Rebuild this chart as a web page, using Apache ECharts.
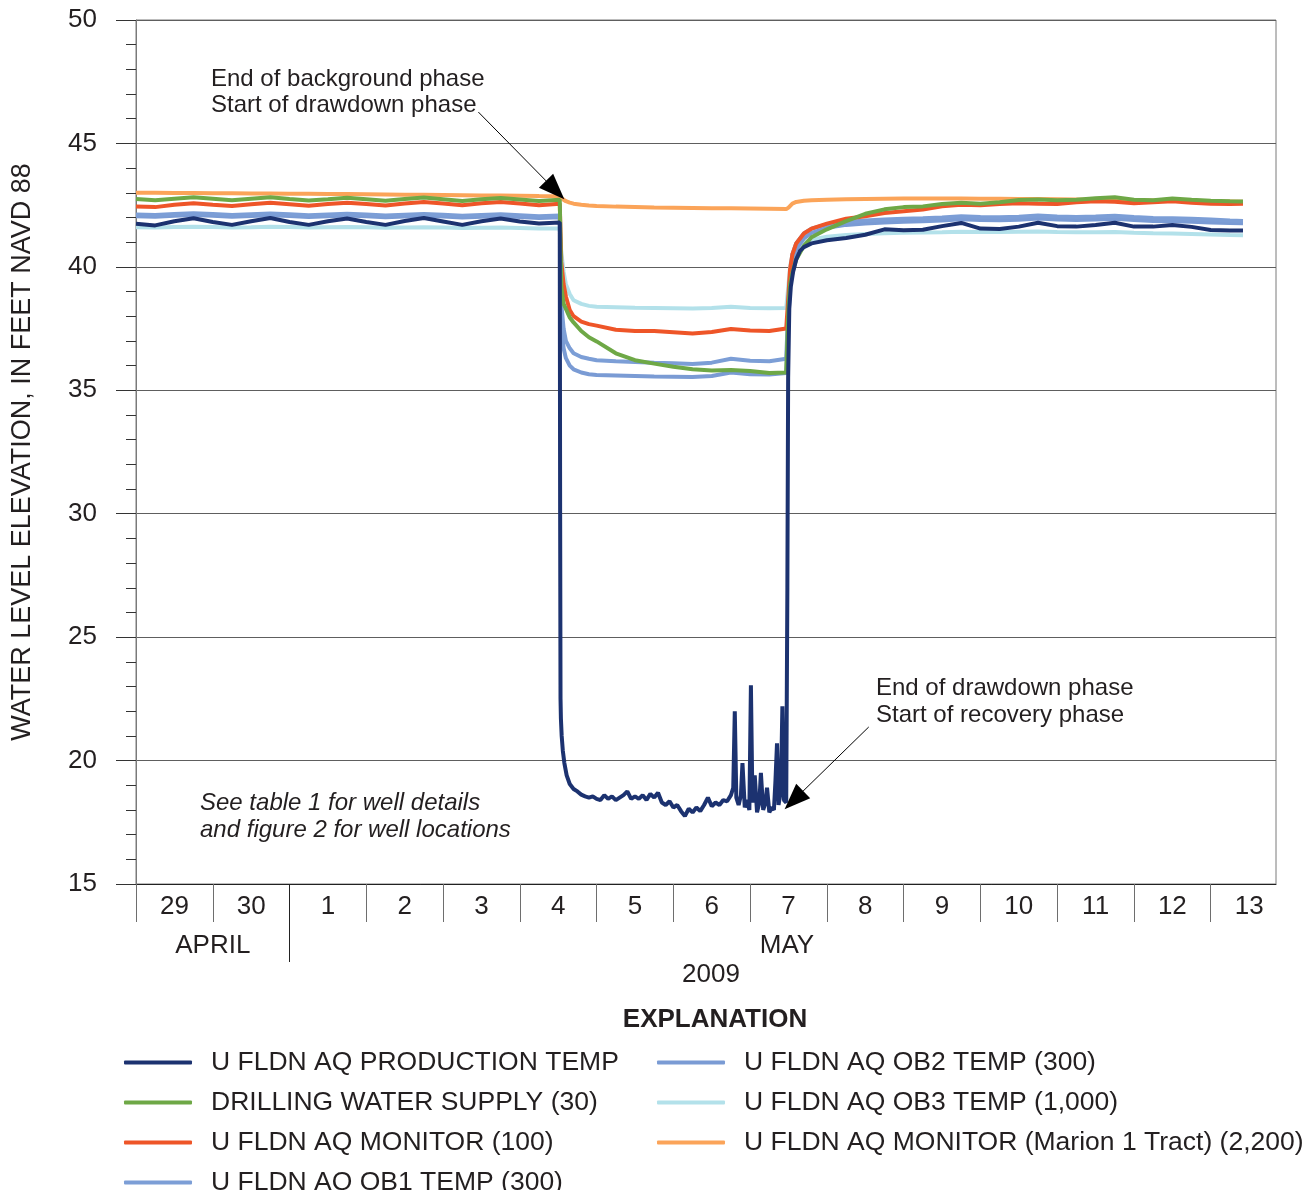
<!DOCTYPE html>
<html>
<head>
<meta charset="utf-8">
<script src="https://cdn.jsdelivr.net/npm/echarts@6/dist/echarts.min.js"></script>
<style>
html, body { margin: 0; padding: 0; background: #fff; }
#container { width: 1309px; height: 1190px; }
</style>
</head>
<body>
<div id="container"></div>
<script>
// x values are days since April 29, 2009 00:00
var dayLabels = ['29', '30', '1', '2', '3', '4', '5', '6', '7', '8', '9', '10', '11', '12', '13'];
var monthLabels = ['APRIL', 'MAY'];
var monthCenters = [1, 8.48];
var yearLabel = '2009';

var days = [0, 0.25, 0.5, 0.75, 1.0, 1.25, 1.5, 1.75, 2.0, 2.25, 2.5, 2.75, 3.0, 3.25, 3.5, 3.75, 4.0, 4.25, 4.5, 4.75, 5.0, 5.25, 5.52,
    5.54, 5.57, 5.6, 5.65, 5.7, 5.8, 5.9, 6.0, 6.25, 6.5, 6.75, 7.0, 7.25, 7.5, 7.75, 8.0, 8.25, 8.47,
    8.5, 8.52, 8.55, 8.6, 8.7, 8.8, 9.0, 9.25, 9.5, 9.75, 10.0, 10.25, 10.5, 10.75, 11.0, 11.25, 11.5, 11.75, 12.0, 12.25, 12.5, 12.75, 13.0, 13.25, 13.5, 13.75, 14.0, 14.25, 14.42];

var drilling = [42.75, 42.70, 42.76, 42.82, 42.76, 42.70, 42.76, 42.82, 42.75, 42.69, 42.74, 42.80, 42.74, 42.68, 42.75, 42.81, 42.74, 42.67, 42.74, 42.79, 42.73, 42.67, 42.72,
    39.2, 38.5, 38.3, 37.95, 37.75, 37.4, 37.15, 36.98, 36.5, 36.22, 36.08, 35.95, 35.85, 35.80, 35.82, 35.78, 35.70, 35.72,
    38.4, 39.3, 39.75, 40.3, 40.85, 41.2, 41.52, 41.85, 42.15, 42.33, 42.42, 42.45, 42.55, 42.60, 42.56, 42.62, 42.71, 42.73, 42.70, 42.72, 42.78, 42.82, 42.72, 42.70, 42.77, 42.72, 42.68, 42.66, 42.65];

var monitor100 = [42.45, 42.42, 42.52, 42.58, 42.52, 42.47, 42.54, 42.60, 42.54, 42.48, 42.55, 42.60, 42.55, 42.49, 42.57, 42.63, 42.57, 42.50, 42.58, 42.63, 42.57, 42.50, 42.56,
    40.2, 39.3, 38.8, 38.25, 38.0, 37.78, 37.68, 37.62, 37.45, 37.40, 37.40, 37.35, 37.30, 37.36, 37.48, 37.42, 37.40, 37.50,
    38.9, 39.9, 40.5, 40.95, 41.35, 41.55, 41.75, 41.95, 42.05, 42.18, 42.25, 42.32, 42.45, 42.52, 42.50, 42.55, 42.58, 42.56, 42.55, 42.62, 42.66, 42.64, 42.58, 42.62, 42.66, 42.60, 42.56, 42.55, 42.56];

var ob1 = [42.12, 42.10, 42.14, 42.17, 42.14, 42.10, 42.13, 42.16, 42.13, 42.09, 42.12, 42.15, 42.12, 42.08, 42.11, 42.14, 42.11, 42.07, 42.10, 42.13, 42.09, 42.05, 42.08,
    38.5, 37.5, 37.0, 36.7, 36.5, 36.35, 36.28, 36.22, 36.18, 36.15, 36.12, 36.10, 36.06, 36.12, 36.28, 36.20, 36.18, 36.28,
    38.6, 39.6, 40.5, 40.95, 41.35, 41.55, 41.72, 41.82, 41.88, 41.92, 41.95, 41.97, 42.00, 42.05, 42.02, 42.01, 42.03, 42.08, 42.04, 42.02, 42.04, 42.07, 42.02, 41.98, 41.97, 41.95, 41.92, 41.88, 41.86];

var ob2 = [42.05, 42.03, 42.07, 42.10, 42.07, 42.03, 42.06, 42.09, 42.06, 42.02, 42.05, 42.08, 42.05, 42.01, 42.04, 42.07, 42.04, 42.00, 42.03, 42.06, 42.02, 41.98, 42.01,
    37.6, 36.7, 36.3, 36.0, 35.85, 35.72, 35.65, 35.62, 35.60, 35.58, 35.56, 35.55, 35.54, 35.58, 35.72, 35.65, 35.64, 35.70,
    38.0, 39.2, 40.2, 40.7, 41.15, 41.38, 41.58, 41.70, 41.76, 41.80, 41.83, 41.85, 41.88, 41.93, 41.90, 41.89, 41.91, 41.96, 41.92, 41.90, 41.92, 41.95, 41.90, 41.86, 41.85, 41.83, 41.80, 41.78, 41.77];

var ob3 = [41.60, 41.59, 41.61, 41.62, 41.61, 41.59, 41.60, 41.62, 41.61, 41.59, 41.60, 41.61, 41.60, 41.58, 41.59, 41.60, 41.59, 41.57, 41.58, 41.59, 41.57, 41.55, 41.55,
    40.6, 39.8, 39.3, 38.9, 38.65, 38.5, 38.42, 38.38, 38.36, 38.34, 38.33, 38.32, 38.31, 38.33, 38.38, 38.33, 38.32, 38.33,
    39.3, 40.0, 40.5, 40.75, 41.0, 41.1, 41.22, 41.29, 41.33, 41.36, 41.38, 41.39, 41.40, 41.42, 41.41, 41.41, 41.42, 41.43, 41.41, 41.40, 41.40, 41.41, 41.38, 41.36, 41.35, 41.33, 41.31, 41.29, 41.28];

var marion = [43.00, 43.00, 42.99, 42.99, 42.98, 42.98, 42.97, 42.97, 42.96, 42.96, 42.95, 42.95, 42.94, 42.93, 42.92, 42.92, 42.91, 42.90, 42.89, 42.89, 42.88, 42.87, 42.86,
    42.80, 42.72, 42.66, 42.60, 42.56, 42.52, 42.49, 42.47, 42.44, 42.42, 42.40, 42.39, 42.38, 42.37, 42.37, 42.36, 42.35, 42.34,
    42.40, 42.48, 42.56, 42.63, 42.68, 42.70, 42.72, 42.74, 42.75, 42.76, 42.77, 42.77, 42.77, 42.77, 42.76, 42.76, 42.75, 42.75, 42.74, 42.73, 42.72, 42.71, 42.70, 42.69, 42.68, 42.67, 42.66, 42.65, 42.64];

// production well is logged with its own (denser) times
var prodDays = [0, 0.25, 0.5, 0.75, 1.0, 1.25, 1.5, 1.75, 2.0, 2.25, 2.5, 2.75, 3.0, 3.25, 3.5, 3.75, 4.0, 4.25, 4.5, 4.75, 5.0, 5.25, 5.52,
    5.525, 5.53, 5.535, 5.545, 5.56, 5.58, 5.61, 5.65, 5.70, 5.75, 5.80, 5.85, 5.90, 5.95, 6.00, 6.05, 6.10, 6.15, 6.20, 6.25, 6.30, 6.35, 6.40, 6.45, 6.50,
    6.55, 6.60, 6.65, 6.70, 6.75, 6.80, 6.85, 6.90, 6.95, 7.00, 7.05, 7.10, 7.15, 7.20, 7.25, 7.30, 7.35, 7.40, 7.45, 7.50, 7.55, 7.60, 7.65, 7.70, 7.75,
    7.78, 7.80, 7.82, 7.85, 7.88, 7.90, 7.93, 7.96, 7.99, 8.01, 8.03, 8.06, 8.09, 8.12, 8.14, 8.17, 8.20, 8.22, 8.25, 8.28, 8.31, 8.33, 8.35, 8.37, 8.40, 8.42, 8.44, 8.47,
    8.485, 8.495, 8.51, 8.53, 8.56, 8.60, 8.65, 8.70, 8.80, 9.0, 9.25, 9.5, 9.75, 10.0, 10.25, 10.5, 10.75, 11.0, 11.25, 11.5, 11.75, 12.0, 12.25, 12.5, 12.75, 13.0, 13.25, 13.5, 13.75, 14.0, 14.25, 14.42];
var prodLevel = [41.75, 41.68, 41.85, 41.97, 41.82, 41.70, 41.85, 41.98, 41.82, 41.70, 41.85, 41.96, 41.82, 41.70, 41.86, 41.98, 41.84, 41.70, 41.85, 41.96, 41.84, 41.76, 41.80,
    30.0, 22.5, 21.7, 21.0, 20.4, 19.9, 19.4, 19.05, 18.85, 18.75, 18.62, 18.55, 18.5, 18.55, 18.45, 18.40, 18.6, 18.45, 18.55, 18.4, 18.5, 18.6, 18.75, 18.45, 18.55,
    18.45, 18.6, 18.4, 18.65, 18.5, 18.7, 18.3, 18.2, 18.35, 18.1, 18.2, 17.95, 17.75, 18.05, 17.9, 18.1, 17.95, 18.2, 18.5, 18.15, 18.3, 18.2, 18.4, 18.35, 18.6,
    18.9, 22.0, 18.5, 18.2, 18.6, 19.9, 18.1, 18.4, 18.0, 23.05, 18.3, 19.4, 17.9, 18.3, 19.5, 18.0, 18.3, 18.9, 17.9, 18.1, 18.0, 19.2, 20.7, 18.2, 18.8, 22.2, 18.4, 18.3,
    27.0, 35.5, 38.3, 39.2, 39.8, 40.3, 40.65, 40.8, 40.95, 41.08, 41.17, 41.3, 41.52, 41.48, 41.5, 41.65, 41.78, 41.55, 41.53, 41.63, 41.79, 41.65, 41.63, 41.70, 41.79, 41.63, 41.63, 41.70, 41.62, 41.49, 41.47, 41.47];

var names = ['U FLDN AQ PRODUCTION TEMP', 'DRILLING WATER SUPPLY (30)', 'U FLDN AQ MONITOR (100)', 'U FLDN AQ OB1 TEMP (300)',
    'U FLDN AQ OB2 TEMP (300)', 'U FLDN AQ OB3 TEMP (1,000)', 'U FLDN AQ MONITOR (Marion 1 Tract) (2,200)'];
var colors = ['#1c3270', '#6ea846', '#ee5528', '#7c9ed6', '#7a9bd4', '#b3e1ea', '#fba459'];

function pairs(xs, ys) {
    var out = [];
    for (var i = 0; i < xs.length; i++) {
        out.push([xs[i], ys[i]]);
    }
    return out;
}

var fontName = '"Liberation Sans", Arial, sans-serif';
var ink = '#231f20';
var gray = '#6e6e6e';

var dayTicks = [];
var dayCenters = [];
for (var i = 0; i < dayLabels.length; i++) {
    dayTicks.push(i);
    dayCenters.push(i + 0.5);
}

function lineSeries(idx, data, extra) {
    var s = {
        name: names[idx],
        type: 'line',
        data: data,
        showSymbol: false,
        symbol: 'none',
        lineStyle: { color: colors[idx], width: 4 },
        itemStyle: { color: colors[idx] },
        emphasis: { disabled: true }
    };
    if (extra) {
        for (var k in extra) s[k] = extra[k];
    }
    return s;
}

function legendBlock(list, left) {
    return {
        data: list, orient: 'vertical', left: left, top: 1049, height: 180, padding: 0,
        icon: 'roundRect', itemWidth: 68, itemHeight: 4, itemGap: 13,
        textStyle: { fontFamily: fontName, fontSize: 26.5, lineHeight: 26, color: ink, padding: [0, 0, 0, 14] }
    };
}

var dom = document.getElementById('container');
var myChart = echarts.init(dom);
var option = {
    animation: false,
    textStyle: { fontFamily: fontName, color: ink },
    grid: {
        left: 136, top: 20, right: 33, bottom: 306,
        outerBoundsMode: 'none',
        show: true, borderColor: '#7a7a7a', borderWidth: 1
    },
    xAxis: [
        {
            type: 'value', min: 0, max: 14.85,
            axisLine: { show: true, lineStyle: { color: '#222', width: 1 } },
            axisTick: { show: true, customValues: dayTicks, length: 38, lineStyle: { color: gray } },
            axisLabel: {
                customValues: dayCenters, margin: 10, fontSize: 26, color: ink,
                formatter: function (v) { return dayLabels[Math.floor(v)]; }
            },
            splitLine: { show: false }
        },
        {
            type: 'value', min: 0, max: 14.85, position: 'bottom',
            axisLine: { show: false },
            axisTick: { show: true, customValues: [2], length: 78, lineStyle: { color: '#222' } },
            axisLabel: {
                customValues: monthCenters, margin: 49, fontSize: 26, color: ink,
                formatter: function (v) { return v < 2 ? monthLabels[0] : monthLabels[1]; }
            },
            splitLine: { show: false }
        },
        {
            type: 'value', min: 0, max: 14.85, position: 'bottom',
            axisLine: { show: false },
            axisTick: { show: false },
            axisLabel: {
                customValues: [7.49], margin: 78, fontSize: 26, color: ink,
                formatter: function () { return yearLabel; }
            },
            splitLine: { show: false }
        }
    ],
    yAxis: {
        type: 'value', min: 15, max: 50, interval: 5,
        name: 'WATER LEVEL ELEVATION, IN FEET NAVD 88',
        nameLocation: 'middle', nameGap: 100,
        nameTextStyle: { fontSize: 27, color: ink },
        axisLine: { show: true, lineStyle: { color: '#7a7a7a' } },
        axisTick: { show: true, length: 20, lineStyle: { color: '#333' } },
        minorTick: { show: true, splitNumber: 5, length: 10, lineStyle: { color: '#333' } },
        axisLabel: { fontSize: 26, margin: 39, color: ink },
        splitLine: { show: true, lineStyle: { color: '#5e5e5e', width: 1 } }
    },
    title: {
        text: 'EXPLANATION',
        left: 715, top: 1007, textAlign: 'center', padding: 0,
        textStyle: { fontFamily: fontName, fontSize: 26, fontWeight: 'bold', color: ink }
    },
    legend: [
        legendBlock(names.slice(0, 4), 124),
        legendBlock(names.slice(4), 657)
    ],
    graphic: [
        {
            type: 'text', left: 211, top: 66,
            style: { text: 'End of background phase\nStart of drawdown phase', font: '24px ' + fontName, lineHeight: 26, fill: ink }
        },
        {
            type: 'text', left: 876, top: 675,
            style: { text: 'End of drawdown phase\nStart of recovery phase', font: '24px ' + fontName, lineHeight: 27, fill: ink }
        },
        {
            type: 'text', left: 200, top: 790,
            style: { text: 'See table 1 for well details\nand figure 2 for well locations', font: 'italic 24px ' + fontName, lineHeight: 27, fill: ink }
        }
    ],
    series: [
        lineSeries(5, pairs(days, ob3)),
        lineSeries(4, pairs(days, ob2)),
        lineSeries(3, pairs(days, ob1)),
        lineSeries(6, pairs(days, marion)),
        lineSeries(2, pairs(days, monitor100)),
        lineSeries(1, pairs(days, drilling)),
        lineSeries(0, pairs(prodDays, prodLevel), {
            markLine: {
                silent: true,
                symbol: ['none', 'triangle'],
                symbolSize: [20, 26],
                label: { show: false },
                lineStyle: { color: '#000', width: 1, type: 'solid' },
                itemStyle: { color: '#000' },
                emphasis: { disabled: true },
                data: [
                    [{ coord: [4.46, 46.27] }, { coord: [5.46, 43.11] }],
                    [{ coord: [9.545, 21.36] }, { coord: [8.57, 18.40] }]
                ]
            }
        })
    ]
};

if (option && typeof option === 'object') {
    myChart.setOption(option);
}
</script>
</body>
</html>
